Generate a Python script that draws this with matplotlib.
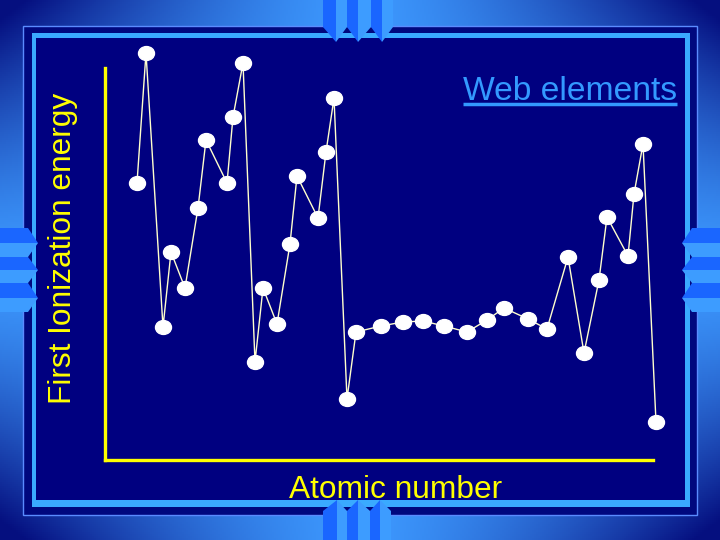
import numpy as np
import matplotlib
matplotlib.use("Agg")
import matplotlib.pyplot as plt
from matplotlib.patches import Rectangle, Polygon
from matplotlib.path import Path
from matplotlib.transforms import Affine2D

plt.rcParams['font.family'] = ['Liberation Sans', 'DejaVu Sans']

# elements H..Rb, positions and first ionization energy (relative units)
elements = ['H', 'He', 'Li', 'Be', 'B', 'C', 'N', 'O', 'F', 'Ne',
            'Na', 'Mg', 'Al', 'Si', 'P', 'S', 'Cl', 'Ar', 'K', 'Ca',
            'Sc', 'Ti', 'V', 'Cr', 'Mn', 'Fe', 'Co', 'Ni', 'Cu', 'Zn',
            'Ga', 'Ge', 'As', 'Se', 'Br', 'Kr', 'Rb']
x_pos = [32, 41, 58, 66, 80, 93, 101, 122, 128, 138,
         150, 158, 172, 185, 192, 213, 221, 229, 242, 251,
         276, 298, 318, 339, 362, 382, 399, 423, 442, 463,
         479, 494, 502, 523, 529, 538, 551]
energy = [277, 407, 133, 208, 172, 252, 320, 277, 343, 397,
          98, 172, 136, 216, 284, 242, 308, 362, 61, 128,
          134, 138, 139, 134, 128, 140, 152, 141, 131, 203,
          107, 180, 243, 204, 266, 316, 38]

navy = '#000080'
band = '#3aaaff'
dark_tab = '#1a66ff'
light_tab = '#3d9cff'
yellow = '#ffff00'

fig = plt.figure(figsize=(7.2, 5.4), dpi=100)

# slide background: light blue, darker toward the corners
bg = fig.add_axes([0, 0, 1, 1])
bg.set_xlim(0, 720)
bg.set_ylim(540, 0)
bg.axis('off')
u = np.linspace(-1, 1, 360)
v = np.linspace(-1, 1, 270)
U, V = np.meshgrid(u, v)
t = np.clip((np.abs(U) * np.abs(V)) ** 1.4 * 1.1, 0, 1)
c_light = np.array([0.24, 0.60, 1.0])
c_dark = np.array([0.02, 0.06, 0.50])
img = c_light[None, None, :] * (1 - t[..., None]) + c_dark[None, None, :] * t[..., None]
bg.imshow(img, extent=(0, 720, 540, 0), aspect='auto', zorder=0)

# frame
bg.add_patch(Rectangle((23, 26), 674, 489, facecolor='#00087e', edgecolor='#5a8cff', lw=1, zorder=1))
bg.add_patch(Rectangle((32, 33), 658, 474, facecolor=band, edgecolor='none', zorder=2))
bg.add_patch(Rectangle((36, 38), 649, 462, facecolor=navy, edgecolor='none', zorder=3))

# decorative tabs
for x0, xm, x1 in [(323, 336, 347), (347, 358, 371), (371, 382, 393)]:
    bg.add_patch(Polygon([(x0, 0), (xm, 0), (xm, 42), (x0, 27)], closed=True, fc=dark_tab, ec='none', zorder=4))
    bg.add_patch(Polygon([(xm, 0), (x1, 0), (x1, 27), (xm, 42)], closed=True, fc=light_tab, ec='none', zorder=4))
for x0, xm, x1 in [(323, 337, 347), (347, 358, 370), (370, 380, 391)]:
    bg.add_patch(Polygon([(x0, 540), (xm, 540), (xm, 500), (x0, 511)], closed=True, fc=dark_tab, ec='none', zorder=4))
    bg.add_patch(Polygon([(xm, 540), (x1, 540), (x1, 511), (xm, 500)], closed=True, fc=light_tab, ec='none', zorder=4))
for y0, ym, y1 in [(228, 243, 257), (257, 270, 283), (283, 298, 312)]:
    bg.add_patch(Polygon([(0, y0), (28, y0), (38, ym), (0, ym)], closed=True, fc=dark_tab, ec='none', zorder=4))
    bg.add_patch(Polygon([(0, ym), (38, ym), (28, y1), (0, y1)], closed=True, fc=light_tab, ec='none', zorder=4))
    bg.add_patch(Polygon([(720, y0), (692, y0), (682, ym), (720, ym)], closed=True, fc=dark_tab, ec='none', zorder=4))
    bg.add_patch(Polygon([(720, ym), (682, ym), (692, y1), (720, y1)], closed=True, fc=light_tab, ec='none', zorder=4))

# labels
bg.text(396, 498, 'Atomic number', color=yellow, fontsize=22.8, ha='center', va='baseline', zorder=5)
bg.text(63, 248, 'First Ionization energy', color=yellow, fontsize=22.8, rotation=90,
        ha='center', va='center', zorder=5)
web = bg.text(677, 100, 'Web elements', color='#3399ff', fontsize=24.2, ha='right', va='baseline', zorder=5)
fig.canvas.draw()
bb = web.get_window_extent().transformed(bg.transData.inverted())
bg.plot([min(bb.x0, bb.x1), max(bb.x0, bb.x1)], [104, 104], color='#3399ff', lw=2.5, zorder=5,
        solid_capstyle='butt')

# chart
ax = fig.add_axes([0, 0, 1, 1])
ax.patch.set_visible(False)
ax.set_xlim(-105, 615)
ax.set_ylim(-80, 460)
for s in ['top', 'right']:
    ax.spines[s].set_visible(False)
for s in ['left', 'bottom']:
    ax.spines[s].set_position(('data', 0))
    ax.spines[s].set_color(yellow)
    ax.spines[s].set_linewidth(2.4)
ax.spines['left'].set_bounds(0, 392)
ax.spines['bottom'].set_bounds(0, 548)
ax.set_xticks([])
ax.set_yticks([])

oval = Path.unit_circle().transformed(Affine2D().scale(1.15, 1.0))
ax.plot(x_pos, energy, color='#ffffcc', lw=1, zorder=2, clip_on=False)
ax.plot(x_pos, energy, linestyle='none', marker=oval, markersize=11.5,
        markerfacecolor='white', markeredgecolor='white', zorder=3, clip_on=False)

fig.savefig('out.png', dpi=100, facecolor=fig.get_facecolor())
